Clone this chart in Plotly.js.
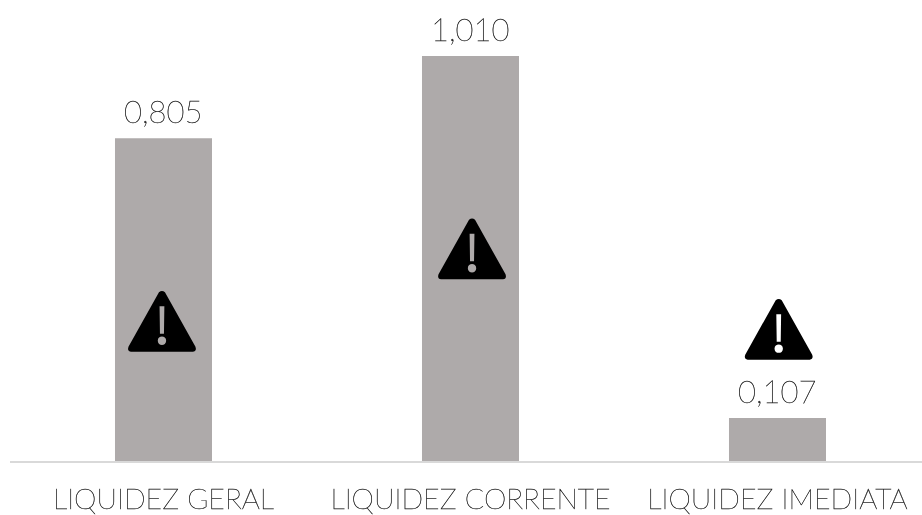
<!DOCTYPE html>
<html><head><meta charset="utf-8">
<script src="https://cdn.plot.ly/plotly-3.0.1.min.js"></script>
<style>html,body{margin:0;padding:0;background:#fff} svg text{stroke:#262626;stroke-width:0.35px;filter:grayscale(1)}</style></head>
<body><div id="chart" style="width:922px;height:515px"></div>
<script>
const categories = ["LIQUIDEZ GERAL", "LIQUIDEZ CORRENTE", "LIQUIDEZ IMEDIATA"];
const values = [0.805, 1.010, 0.107];
const iconCenters = [0.3474, 0.528, 0.3275];
const iconOffsets = [-0.005, 0.005, 0.004];

const warningPath = "M -3,29.5 Q 0,32 3,29.5 L 33.5,-25 Q 35,-29.5 31,-30 L -31,-30 Q -35,-29.5 -33.5,-25 Z " +
  "M -2.4,15.5 L 2.4,15.5 L 2,-12 L -2,-12 Z " +
  "M -4.2,-19 C -4.2,-13.4 4.2,-13.4 4.2,-19 C 4.2,-24.6 -4.2,-24.6 -4.2,-19 Z";

const shapes = iconCenters.map((c, i) => ({
  type: "path", xref: "x", yref: "y",
  xsizemode: "pixel", ysizemode: "pixel",
  xanchor: i + iconOffsets[i], yanchor: c,
  path: warningPath, fillrule: "evenodd",
  fillcolor: "#000000", line: {width: 0}, layer: "above"
}));

const labels = values.map((v, i) => ({
  x: i, y: v, xref: "x", yref: "y", yanchor: "bottom", yshift: 6, showarrow: false,
  text: v.toFixed(3).replace(".", ","),
  font: {family: "Lato, sans-serif", size: 31, color: "#262626", weight: 100}
}));

Plotly.newPlot("chart", [{
  type: "bar", x: categories, y: values, width: 0.316,
  marker: {color: "#aeaaaa"},
  cliponaxis: false, hoverinfo: "skip"
}], {
  width: 922, height: 515, separators: ",.",
  margin: {l: 10, r: 0, t: 0, b: 54, pad: 0},
  paper_bgcolor: "#fff", plot_bgcolor: "#fff", showlegend: false,
  xaxis: {type: "category", range: [-0.5, 2.4707], showline: true, linecolor: "#d9d9d9", linewidth: 2,
    ticks: "", showgrid: false, zeroline: false, tickangle: 0, automargin: false, ticklabelstandoff: 12,
    tickfont: {family: "Lato, sans-serif", size: 28.5, color: "#262626", weight: 100}},
  yaxis: {range: [0, 1.1496], visible: false, fixedrange: true},
  shapes: shapes, annotations: labels
}, {displayModeBar: false, staticPlot: true});
</script></body></html>
